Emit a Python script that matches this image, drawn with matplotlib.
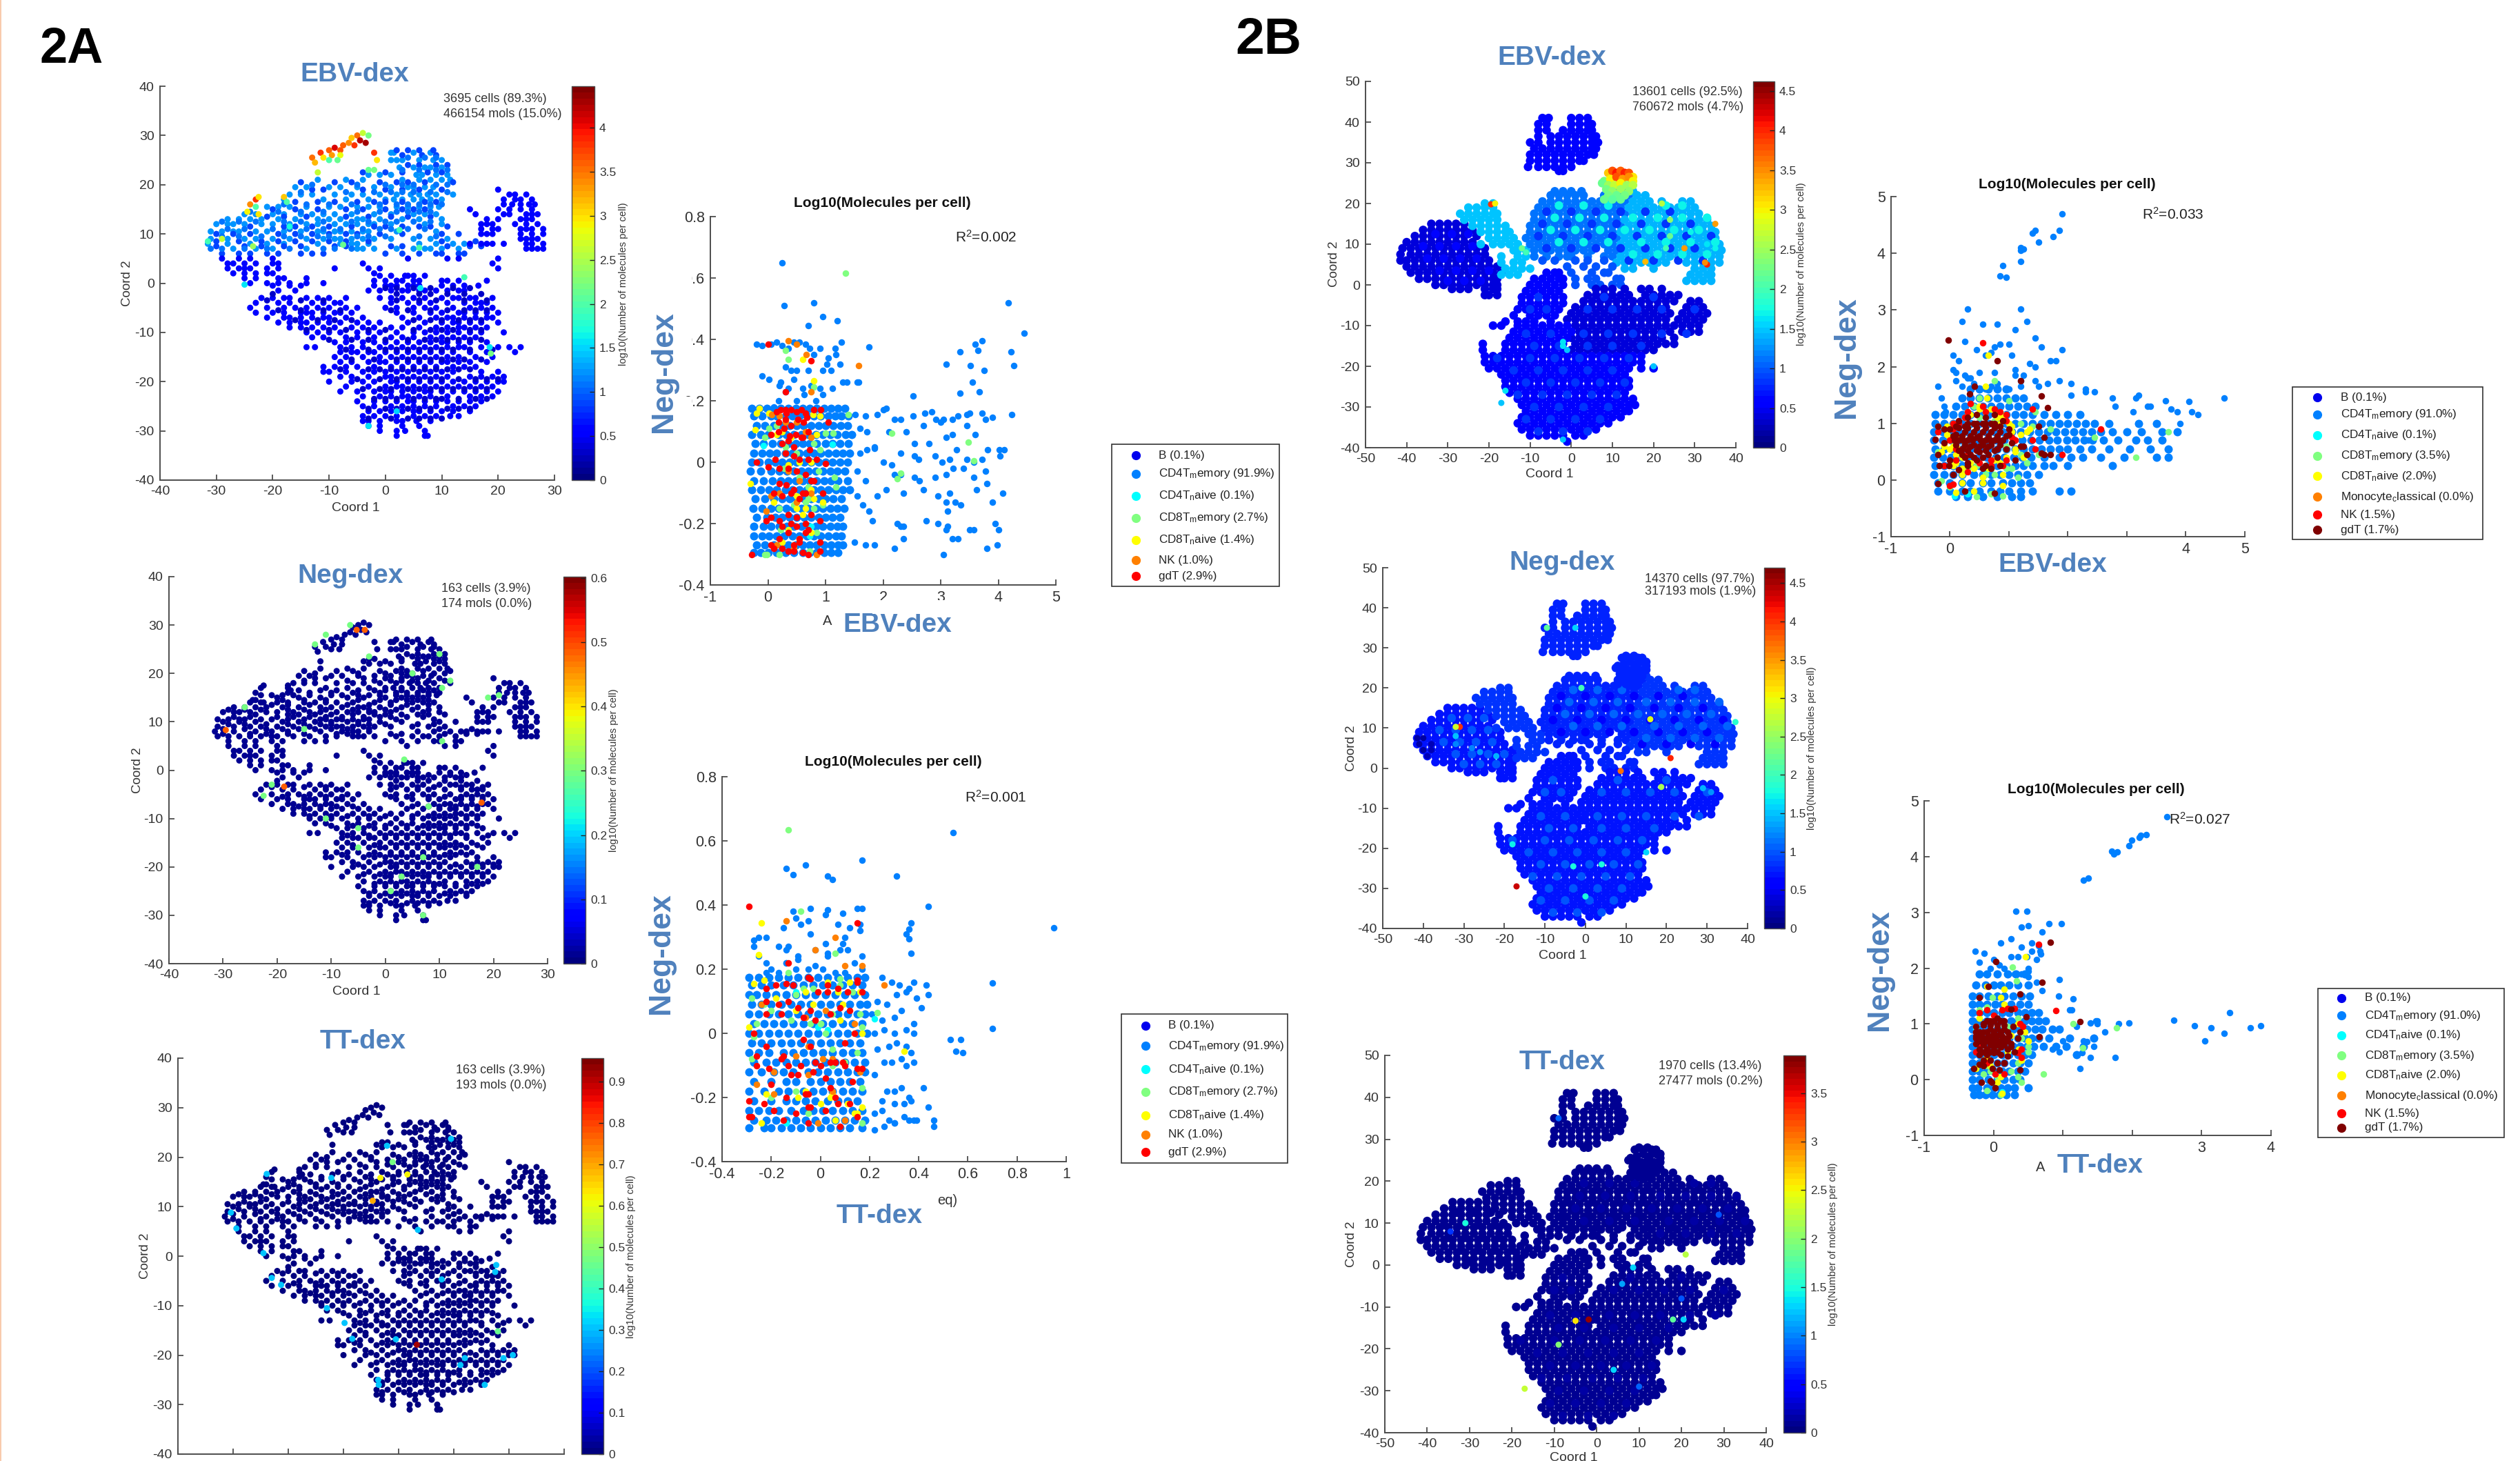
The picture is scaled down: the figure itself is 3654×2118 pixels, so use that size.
import numpy as np
import matplotlib
matplotlib.use("Agg")
import matplotlib.pyplot as plt
from matplotlib.colors import Normalize
from matplotlib.cm import ScalarMappable
from matplotlib.patches import Rectangle
from matplotlib.lines import Line2D

W, H = 3655, 2118
NARROW = ["Liberation Sans Narrow", "Liberation Sans", "DejaVu Sans"]
plt.rcParams["font.family"] = NARROW
plt.rcParams["mathtext.default"] = "regular"
GREY = "#4d4d4d"
TITLE = "#4f81bd"
JET = plt.get_cmap("jet", 64)

# ---------- tSNE map of 2A (rows: y, xs) ----------
A_UP_LIGHT = [(26.5,[1,1.5,5,8]),(25,[1,2,3,6,8.5,10]),(23.5,[2.5,5,7,8,10]),(22,[-3,-1,1,5.5,6.5,9,11]),
 (21,[-12,-7,-4,3,6,8,10,11.5]),(19.5,[-16,-14,-10,-8,-5,-2,1,4,5,7,8.5]),(18,[-17,-15,-13,-9,-6,-4,-1,2,4.5,6,7.5,9,12]),
 (17,[-18,-11,-7,-3,0,1.5,3,5,6.5,8,10]),(15.5,[-21,-19,-17,-14,-10,-8,-5,-3,-1,2,4,6,8,9.5]),
 (14,[-25,-23,-20,-18,-15,-13,-11,-9,-6,-2,1,5,7,9]),(13,[-28,-26,-24,-22,-19,-16,-12,-10,-8,-5,-4,-1,3,6,10]),
 (12,[-30,-28,-27,-25,-22,-20,-17,-14,-12,-9,-7,-5,-3,-2,1,7,10]),(10.5,[-31,-29,-27,-26,-23,-21,-18,-15,-12,-11,-9,-8,-6,-4,-3,2,9]),
 (9,[-31,-28,-25,-23,-20,-17,-14,-11,-9,-8,-6,-4,-2,1,5,8,11]),(8,[-31.5,-28,-24,-21,-18,-12,-8,-6,-5,-3,6,9,12,14]),
 (7,[-27,-23,-20,-14,-5,-4,-2,2,5,7,8,10,13])]
A_UP_DARK = [(27,[2,4,6,8.5]),(26,[3,6.5,9]),(24,[4,6,9,11]),(22.5,[-4,0,3,7.5,10]),(20.5,[-15,-9,-6,-1,2,4,7,12]),
 (19,[-13,-11,-4,0,3,6,10]),(16.5,[-16,-12,-9,-5,-2,0,3,7,9]),(15,[-20,-16,-12,-7,-4,0,3,5,7]),(13.5,[-21,-18,-14,-7,-3,1,4,8]),
 (11.5,[-24,-18,-16,-13,-10,-6,-2,0,3,6,8,11]),(10,[-30,-27,-24,-19,-16,-13,-10,-7,-5,-1,3,10,13]),
 (8.5,[-30,-26,-22,-19,-16,-13,-10,-7,-3,10,16]),(7.5,[-30,-25,-22,-18,-15,-9,-7,1,3,11,15,17]),
 (6,[-29,-26,-24,-21,-19,-15,-13,-11,0,3,6,9,10,13,14])]
A_UP_MID = [(25.5,[4,7,9]),(23,[3,6,9,11]),(20,[-13,-5,0,3,5,9,11]),(18.5,[-15,-7,-2,1,3,5,8,11]),(16,[-18,-14,-10,-6,-1,2,4,6,8,10]),
 (14.5,[-24,-19,-15,-11,-5,-1,2,4,6,8]),(12.5,[-29,-26,-23,-18,-15,-11,-6,-3,0,2,5,8]),(11,[-28,-25,-20,-17,-14,-11,-8,-4,-1,1,4,7]),
 (9.5,[-29,-26,-22,-18,-15,-12,-10,-5,-3,0,6,9]),(7,[-31,-29,-25,-21,-17,-11,-9,-6])]
A_LEFT = [(5,[-29,-26,-24,-20,4,11,13,20]),(4,[-28,-27,-25,-23,-20,-19,-4,19]),(3,[-28,-26,-25,-24,-21,-19,-9,-3,-1,20]),
 (2,[-27,-25,-23,-21,-20,-2]),(1,[-25,-23,-19,-18,-14]),(0,[-24,-21,-19,-17,-14,-11])]
A_RIGHT = [(19,[20]),(18,[22,23,25]),(17,[21,23,24,26]),(16,[21,22.5,24,25.5,26.5]),(15,[15,20,22,24,26]),(14,[16,21,22,25,26,27]),
 (13,[18,20,24,25,26]),(12,[17,18,19,23,25,27]),(11,[17,19,20,24,25,26,28]),(10,[17,18,19,24,26,28]),(9,[24,25,26,27]),
 (8,[15,17,18,19,21,25,26,28]),(7,[25,26,27,28])]
A_LOW = [(1.5,[-1,1,3.5,4,5,7]),(0.5,[-2,0,2,3,5,6,10,11,13,18]),(-0.5,[-20,-17,-15,-2,0,1,2,4,5,6,10,12,14,16.5]),
 (-1.5,[-19,-16,-3,-1,1,3,4,6,7,9,11,13,14]),(-3,[-22,-20,-18,-17,-14,-12,-10,-7,-1,1,3,5,7,10,12,13,15,16,19]),
 (-4,[-23,-19,-17,-13,-11,-9,-8,1,4,6,8,11,14,16,17,18]),(-5,[-24,-21,-18,-16,-14,-12,-10,-7,-5,0,2,5,7,9,12,15,17,19]),
 (-6,[-23,-20,-18,-15,-14,-13,-11,-9,-8,-6,2,5,8,10,13,14,16,18,20]),(-7,[-21,-18,-17,-15,-13,-11,-10,-7,-4,3,6,9,11,12,14,16,18,19]),
 (-8,[-19,-17,-15,-14,-12,-10,-8,-5,-3,-1,4,7,10,12,13,15,17,20]),(-9,[-17,-15,-13,-11,-9,-6,-4,-2,1,3,6,9,11,13,14,16,18]),
 (-10,[-14,-12,-10,-8,-5,-3,-1,2,5,7,9,11,13,15,17,21]),(-11,[-13,-11,-7,-5,-2,1,3,5,8,10,12,14,16]),
 (-12,[-9,-7,-4,-2,0,2,4,6,8,10,11,13,15,18]),(-13,[-14,-12.5,-8,-6,-4,-1,1,3,5,7,9,11,13,14,17,20,22,24]),
 (-14,[-8,-6,-5,-3,-2,0,2,4,6,8,10,12,15,18,23]),(-15,[-9,-7,-4,-1,1,3,5,7,9,11,13,16,19]),
 (-16,[-8,-6,-3,-1,0,2,4,6,8,10,11,13,15,18]),(-17,[-11,-9,-7,-5,-2,1,3,5,7,9,12,14,16]),
 (-18,[-11,-10,-7,-4,-2,0,2,4,6,8,10,12,17,20]),(-19,[-8,-6,-3,0,1,3,5,7,9,11,15,17,19,21]),
 (-20,[-10,-6,-4,-2,1,2,4,6,8,10,12,14,16,18,20,21]),(-21,[-7,-3,0,2,3,5,7,9,11,13,15,17,19]),
 (-22,[-8,-5,-2,0,1,3,5,7,8,10,12,14,16,18,20]),(-23,[-4,-1,1,3,4,6,8,11,15,17,19]),(-24,[-5,-2,0,2,4,5,7,9,11,13,15,17]),
 (-25,[-4,-2,1,3,5,7,9,12,14,16]),(-26,[-3,-1,1,3,5,6,8,10,12,15]),(-27,[-4,-2,0,2,5,7,9,11.5,13]),
 (-28,[-4,-3,-1,2,3,5.5,8]),(-29,[-3,-1,3,6]),(-30,[-1,2,3.5,7]),(-31,[2,7,7.5])]
A_LOW2 = [(-1,[0,2,5,8,12,15]),(-2.2,[-20,2,6,8,11,14,17]),(-3.5,[-21,-15,-11,2,6,9,14,18]),(-5.5,[-19,-15,-11,-8,1,4,8,11,14,16,18]),
 (-7.5,[-16,-12,-9,-6,5,8,10,13,15,17]),(-9.5,[-14,-10,-7,-3,0,5,8,10,12,15,17]),(-11.5,[-10,-6,-3,0,4,7,9,11,13,15,17]),
 (-13.5,[-7,-3,0,2,4,6,8,10,12,15,19]),(-15.5,[-6,-2,2,4,6,8,10,12,14,17]),(-17.5,[-8,-3,-1,1,3,5,7,9,11,13,15]),
 (-19.5,[-5,-1,2,4,6,8,10,13,16,18,20]),(-21.5,[-4,-1,1,4,6,8,10,12,14,16,18]),(-23.5,[-2,0,2,5,7,9,10,13,16,18]),
 (-25.5,[-3,0,2,4,6,8,11,13,15]),(-27.5,[-3,1,4,6,8,10])]
A_ARC_X = [-13,-12.5,-11.5,-11,-10,-9.5,-9,-8,-8,-7.5,-6.5,-6,-5.5,-5,-4.5,-4,-3.5,-3,-2,-1.5,-12,-24,-23,-22.5,-24.5,-22.5,-23,-18,-17.5,-10,-8.5,-3,-2]
A_ARC_Y = [25.5,24.5,26.5,25.5,27,26,27.5,27,26,28,28.5,29.5,28,30,29,30.5,28.5,30,26.5,25,22.5,16,17,17.5,14.5,14,15.5,17.5,16.5,25,25,23,23]
A_ARC_EBV = [3.5,3.2,3.8,3,3.6,3.3,4.1,3.7,2.8,3.6,3.4,3.1,3.8,3.5,4.2,2.6,4.3,2.2,3.8,3,2.6,3.4,3.8,3,2.9,3,2,3.1,2,2,2.1,2.1,2.2]
A_EBV_EXTRA = [(14,1.2,1.9),(18.5,-13,1.6),(18.7,-14.3,2.2),(6.2,-1,1.6),(-25,-.3,1.6),(-29,9,2.6),(-31.5,8.5,1.9),(2.5,10.8,1.9),(-7.5,7.8,2.1),(6,7.2,2),(-17,11.5,1.7),(-23.5,7.5,2.4),(2,-26,1.5),(-3,-29,1.6)]
A_NEG_EXTRA = [(-6.5,30,.3),(-11,28,.3),(-13,26,.3),(-3,23.5,.3),(10,24,.3),(12,18.5,.3),(10.5,17,.3),(5,20,.3),(-15,8.5,.3),(-26,13,.3),(19,15,.3),(21,15.5,.3),(10.5,6,.3),(-21,-3,.3),(-22.5,-5.3,.3),(3.5,2.2,.3),(8,-7.5,.3),(-11,-10,.3),(-5,-12,.3),(-5,-16,.3),(7,-18,.3),(3,-22,.3),(1,-25,.3),(7,-30,.3),(17,-20,.3),(-5.3,29,.48),(-3.8,29,.48),(-29.5,8.3,.48),(-18.7,-3.4,.48),(17.8,-6.7,.48)]
A_TT_EXTRA = [(-3.3,15.8,.62),(1.6,16.5,.62),(-1.1,19,.47),(-4.7,11.2,.7),(3.3,-17.9,.92),(-2.1,22.3,.3),(9.5,23.7,.3),(-23.9,16.6,.3),(-12.2,15.8,.3),(-30.4,8.8,.3),(-29.4,5.6,.3),(-24.5,.6,.3),(-23,-4.4,.3),(-21.3,-5.8,.3),(-13,-10.5,.3),(-9.8,-13.5,.3),(-8.4,-16.7,.3),(3.5,5.3,.3),(-.5,-16.8,.3),(7.8,-4.7,.3),(17.7,-1.8,.3),(17.5,-3.2,.3),(12,-20.6,.3),(11.2,-22,.3),(15.6,-26,.3),(-3.7,-25,.3),(-3.6,-26,.3),(20.7,-20,.3),(19,-20.6,.3),(18,-15.2,.45)]
A_EBV_LEVELS = [1.25, 0.85, 1.05, 0.6, 0.55, 0.5, 0.33]

# ---------- tSNE map of 2B ----------
B_TOP = [(41,[-7,-5.5,0,2,4]),(39.5,[-8,-6,0,2,4,5]),(38,[-8,-6,-2,0,2,4,5]),(36.5,[-8,-5,-3,-1,1,3,5,6]),(35,[-10,-8,-5,-3,-1,1,3,5,6.5]),
 (33.5,[-9,-7,-5,-3,-1,1,3,5,6]),(32,[-10,-8,-6,-4,-2,0,2,4,5.5]),(30.5,[-10,-8,-6,-4,-2,0,2,3]),(29,[-10.5,-8,-6,-4,-2,0]),(28,[-3,-2])]
B_ISLE_X = [9,10,11,12,13,14,15,8,9.5,11,12.5,14,15,7.5,9,10.5,12,13.5,15,8.5,10,12,14,9,11,13,8,10,12]
B_ISLE_Y = [27.5,28,27.5,28,27.5,27.5,26.5,25.5,26,26.5,26,26.5,25.5,25,24.5,24.5,25,24.5,24.5,23.5,23,23.5,23,22,22,22,21,21,21]
B_ISLE_EBV = [3.2,3.8,4.1,3.7,4,3.8,3.1,2.3,3,3.8,3.4,3.5,3,2.2,2.5,2.7,3,2.5,2.6,2.3,2.4,2.5,2.4,2.3,2.2,2.3,2.2,2.1,2.2]
B_LOBE = [(15,[-34,-32,-30,-28,-26]),(13.5,[-36,-34,-32,-30,-28,-26,-24]),(12,[-38,-36,-34,-32,-30,-28,-26,-23]),
 (10.5,[-40,-38,-36,-34,-32,-30,-28,-26,-24]),(9,[-41,-39,-37,-35,-33,-31,-29,-27,-25,-23,-21]),(7.5,[-41.5,-39,-37,-35,-33,-31,-29,-27,-25,-23,-21]),
 (6,[-41.5,-40,-38,-36,-34,-32,-30,-28,-26,-24,-22,-20]),(4.5,[-40,-38,-36,-34,-32,-30,-28,-26,-24,-22,-20,-18]),
 (3,[-39,-37,-35,-33,-31,-29,-27,-25,-23,-21,-19,-17]),(1.5,[-37,-35,-33,-31,-29,-27,-25,-23,-21,-19,-18]),
 (0,[-33,-31,-29,-27,-25,-23,-21,-19,-18]),(-1,[-29,-27,-25,-21,-19,-18]),(-2.5,[-21,-20,-18])]
B_SHOULDER = [(20,[-21,-19]),(19,[-25,-23,-21,-19]),(17.5,[-27,-25,-23,-21,-19,-18]),(16,[-26,-24,-22,-20,-18]),(14.5,[-24,-22,-20,-18,-16]),
 (13,[-22,-20,-18,-16,-15]),(11.5,[-20,-18,-16,-14]),(10,[-22,-19,-17,-15,-13]),(8.5,[-14,-13,-11]),(7,[-17,-13,-11,-9]),(5.5,[-17,-14,-12]),(4,[-16,-14,-12,-10]),(2.5,[-17,-15,-13])]
B_BAND_L = [(23,[-4,-2,0,2.5,9,11,13]),(22,[-5,-3,-1,1,3,8,10,12,14]),(20.5,[-7,-5,-3,-1,1,3,5,7,9,11,13]),(19,[-8,-6,-4,-2,0,2,4,6,8,10,12]),
 (17.5,[-9,-7,-5,-3,-1,1,3,5,7,9,11,13]),(16,[-9,-7,-5,-3,-1,1,3,5,7,9,11]),(14.5,[-10,-8,-6,-4,-2,0,2,4,6,8,10,12]),
 (13,[-10,-8,-6,-4,-2,0,2,4,6,8,10]),(11.5,[-11,-9,-7,-5,-3,-1,1,3,5,7,9,11]),(10,[-10,-8,-6,-4,-2,0,2,4,6,8,10]),
 (8.5,[-9,-7,-5,-3,-1,1,3,5,9,11]),(7,[-9,-6,-3,-1,0,4,8,10])]
B_BAND_R = [(23,[15]),(22,[16,18]),(20.5,[15,17,19,22,27,29]),(19,[14,16,18,20,22,24,26,28,30]),(17.5,[15,17,19,21,23,25,27,29,31]),
 (16,[13,15,17,19,21,23,25,27,29,31,33]),(14.5,[14,16,18,20,22,24,26,28,30,32,34]),(13,[12,14,16,18,20,22,24,26,28,30,32,34,35]),
 (11.5,[13,15,17,19,21,23,25,27,29,31,33,35]),(10,[12,14,16,18,20,22,24,26,28,30,32,34,36]),(8.5,[13,15,17,19,21,23,25,27,29,31,33,35,36.5]),
 (7,[12,14,16,18,20,22,24,26,28,30,32,34,36]),(5.5,[11,13,15,17,19,21,23,28,30,32,34,36]),(4,[13,15,20,30,32,34]),(2.5,[29,31,33,34]),(1,[28,30,32,34])]
B_GAPS = [(6,[-7,-4,1,4,8]),(4.5,[-1,3,6,10]),(3,[-4,0,5,8,9]),(1.5,[1,4,6,11,12]),(0,[1,5,7,10,12])]
B_MID = [(3,[-6,-4,-3]),(1.5,[-9,-7,-5,-3,-2]),(0,[-10,-8,-6,-4,-2]),(-1.5,[-11,-9,-7,-5,-3]),(-3,[-12,-10,-8,-6,-4,-2]),(-4.5,[-12,-10,-8,-6,-4,-2]),
 (-6,[-13,-11,-9,-7,-5,-3]),(-7.5,[-14,-10,-8,-6,-4]),(-9,[-16,-13,-11,-9,-5])]
B_LR = [(-1,[6,8,10,13,17,19,22]),(-2.5,[4,6,8,10,12,14,18,20,22,24,26]),(-4,[3,5,7,9,11,13,15,17,19,21,23,25,29,31]),(-5.5,[1,3,5,7,9,11,13,15,17,19,21,23,28,30,32]),
 (-7,[0,2,4,6,8,10,12,14,16,18,20,22,24,27,29,31,33]),(-8.5,[-1,1,3,5,7,9,11,13,15,17,19,21,23,26,28,30,32]),
 (-10,[1,3,5,7,9,11,13,15,17,19,21,23,25,27,29,31]),(-11.5,[2,4,6,8,10,12,14,16,18,20,22,24,27,29,31]),(-13,[0,2,4,6,8,10,12,14,16,18,20,22,25]),
 (-14.5,[1,3,5,7,9,11,13,15,17,19,21,23,25]),(-16,[0,2,4,6,8,10,12,14,16,18,20])]
B_LOW = [(-10,[-19,-17,-13,-11,-9,-7,-5,-3,-1]),(-11.5,[-14,-12,-10,-8,-6,-4,-2,0]),(-13,[-15,-13,-11,-9,-7,-5,-3,-1]),(-14.5,[-21.5,-16,-14,-12,-10,-8,-6,-4,-2]),
 (-16,[-21.5,-16,-14,-12,-10,-8,-6,-4,-2]),(-17.5,[-21,-19,-17,-15,-13,-11,-9,-7,-5,-3,-1,1,3,5,7,9,11,13,15,17]),
 (-19,[-21,-19,-17,-15,-13,-11,-9,-7,-5,-3,-1,1,3,5,7,9,11,13,15,17]),(-20.5,[-20,-18,-16,-14,-12,-10,-8,-6,-4,-2,0,2,4,6,8,10,12,14,17,20]),
 (-22,[-17,-15,-13,-11,-9,-7,-5,-3,-1,1,3,5,7,9,11,13]),(-23.5,[-16,-14,-12,-10,-8,-6,-4,-2,0,2,4,6,8,10,12,14]),
 (-25,[-16,-14,-12,-10,-8,-6,-4,-2,0,2,4,6,8,10,12,14]),(-26.5,[-15,-13,-11,-9,-7,-5,-3,-1,1,3,5,7,9,11,13]),
 (-28,[-13,-11,-9,-7,-5,-3,-1,1,3,5,7,9,11,13,15]),(-29.5,[-12,-10,-8,-6,-4,-2,0,2,4,6,8,10,12,14,15.5]),
 (-31,[-11,-9,-7,-5,-3,-1,1,3,5,7,9,11,13,14]),(-32.5,[-12,-10,-8,-6,-4,-2,0,2,4,6,8,10,12]),(-34,[-13,-11,-9,-7,-5,-3,-1,1,3,5,7,9]),
 (-35.5,[-12,-10,-8,-6,-4,-2,0,2,4,6]),(-37,[-10,-8,-6,-4,-2,1,3]),(-38.5,[-1])]
B_LOW_PATCH = [(-3,[-8,8,20]),(-6,[-10,-6,4,10,16,22,30]),(-12,[-11,-5,3,9,15,22,28]),(-15,[-9,-3,4,10,17]),(-18,[-18,-10,-4,2,8,14]),
 (-21,[-14,-8,-2,4,10]),(-24,[-11,-5,1,7,13]),(-27,[-13,-7,-1,5,11]),(-30,[-9,-3,3,9]),(-33,[-11,-5,1,7]),(-36,[-8,-2,4])]
B_LOBE_PATCH = [(12.5,[-33,-29,-25]),(9.5,[-36,-32,-28,-24]),(6.5,[-35,-31,-27,-23]),(3.5,[-32,-28,-24,-20]),(1,[-30,-26,-22])]
B_BAND_DARK = [(18,[-6,0,6,12,18,24]),(15,[-7,-1,5,11,17,23,29]),(12,[-8,-2,4,10,16,22,28,34]),(9,[-6,0,6,12,18,24,30]),(6,[14,20,26,32])]
B_BAND_BRIGHT = [(19.5,[-3,3,9,23,27]),(16.5,[-4,2,8,15,21,27,33]),(13.5,[-5,1,7,13,19,25,31]),(10.5,[-3,3,9,17,23,29,35]),(7.5,[15,21,27,33])]
B_EBV_LEVELS = [0.6, 0.38, 1.5, 1.15, 1.42, 1.0, 0.6, 0.42, 0.55, 0.8, 0.6, 0.85, 1.7]
B_NEG_LEVELS = [0.75, 0.72, 0.85, 0.75, 0.85, 0.75, 0.72, 0.68, 0.72, 1.0, 1.0, 0.55, 1.1]
B_TT_LEVELS = [0.12, 0.08, 0.1, 0.1, 0.12, 0.1, 0.1, 0.08, 0.1, 0.15, 0.12, 0.08, 0.15]
B_EBV_EXTRA = [(-19.5,19.8,3.9),(-18.5,20,3),(35,15,3.4),(33,5,4),(32.5,5.5,3.5),(18,5.7,3.3),(27.5,9,3.4),(24,12,2.2),(-12,9,2.2),(-11,8,2),(22,20,2.6),(24,16,2.4),(-2,-14,1.6),(-2,-15,1.6),(-1,-16,1.5),(20,-20,1.5),(-16,-26,1.6),(-17,-29,1.5),(35,9,1.7),(33,10,1.6),(-2,-38,1.5),(29,13,1.7),(23,9,2)]
B_NEG_EXTRA = [(-31,10.3,4),(-32,10.3,2.8),(21,2.5,4.1),(-17,-29.5,4.4),(8.7,-.7,3.7),(16,12.2,2.9),(18.7,-4.7,2.6),(37,11.5,1.9),(-1,20,2),(-2.5,35,1.6),(-9.5,35,2.2),(0,-32,1.8),(-3,-24.5,1.8),(4,-24,1.8),(-18,-19,1.7),(15,-21,1.6),(-41,6,.2),(-40,4.5,.2),(-39,3,.25),(-40,7.5,.2),(-38,4.5,.25),(-38,6,.25),(-41.5,7.5,.2),(-32,8,1.5),(-22,3,1.4),(-26,4,1.3),(-32,6,1.2),(-28,5,1.2),(29,-5,1.4),(31,-6,1.3)]
B_TT_EXTRA = [(-1.9,-13,3.8),(-5,-13.3,2.6),(21,2.5,2.2),(-17,-29.5,2.3),(18,-13,1.8),(8.6,-.6,1.3),(4,-25,1.3),(20.5,-13,1.3),(-34.5,8,.7),(-31,10,1.5),(6,-4.5,1.1),(10,-29,.9),(28.8,12,.8),(-9,-19,2),(-9,35,.9),(20,-8,.8)]

# ---------- scatter 2A EBV vs Neg ----------
S1_BLUE = [(.175,[-.28,-.15,-.02,.1,.22,.35,.48,.6,.72,.85,.98,1.1,1.22,1.33]),(.15,[-.25,-.1,.05,.15,.3,.42,.55,.68,.8,.92,1.05,1.17,1.28,1.4]),
 (.12,[-.2,-.05,.1,.25,.38,.5,.62,.75,.88,1,1.13,1.26,1.38]),(.09,[-.28,-.12,0,.18,.32,.45,.58,.7,.83,.95,1.08,1.2,1.35,1.45]),
 (.06,[-.22,-.08,.08,.22,.35,.48,.6,.73,.85,1,1.12,1.25,1.4]),(.03,[-.25,-.1,.03,.15,.3,.42,.55,.68,.8,.92,1.05,1.18,1.3,1.42]),
 (0,[-.28,-.15,0,.12,.25,.38,.5,.63,.75,.88,1,1.12,1.25,1.38]),(-.03,[-.3,-.12,.05,.2,.33,.45,.58,.7,.83,.95,1.08,1.2,1.33]),
 (-.06,[-.25,-.08,.08,.22,.35,.48,.6,.73,.85,.98,1.1,1.22,1.38]),(-.09,[-.28,-.13,.02,.15,.3,.42,.55,.68,.8,.92,1.05,1.18,1.3,1.42]),
 (-.12,[-.22,-.05,.1,.25,.38,.5,.63,.75,.88,1,1.13,1.27]),(-.15,[-.26,-.1,.05,.18,.32,.45,.58,.7,.83,.95,1.08,1.2,1.32]),
 (-.18,[-.2,-.02,.12,.25,.38,.5,.63,.75,.88,1,1.12,1.25]),(-.21,[-.24,-.08,.05,.2,.33,.45,.58,.7,.83,.95,1.08,1.2,1.3]),
 (-.24,[-.25,-.1,.02,.15,.28,.42,.55,.68,.8,.92,1.05,1.18,1.28]),(-.27,[-.2,-.05,.1,.22,.35,.48,.6,.73,.85,.98,1.1,1.22,1.3]),
 (-.295,[-.25,-.12,0,.15,.3,.45,.6,.72,.85,.98,1.1,1.22])]
S1_SPARSE_X = [.25,.28,.8,.95,1.2,.7,4.17,4.45,1.75,3.72,3.6,3.65,4.22,3.33,4.27,3.1,3.52,3.75,3.55,3.67,3.33,2.52,-.2,-.1,.05,.15,.25,.35,.45,.55,.65,.72,.8,.9,1.28,1.17,1.18,1.05,.95,1.02,1.25,1.1,.7,.5,.4,.3,.22,.2,.02,-.1,.35,.45,.6,.75,.9,1.12,1.3,1.37,1.55,1.58,.5,.63,.83,.95,.18,.1,.3,
 1.52,1.7,1.9,2,2.05,2.2,2.3,2.52,2.72,2.85,2.92,3.05,3.2,3.3,3.45,3.5,3.72,3.9,4.23,
 1.6,1.72,1.85,2.1,2.4,2.55,2.7,2.8,3,3.1,3.2,3.45,3.6,3.78,4.02,4.1,
 1.6,1.72,1.85,2,2.15,2.3,2.55,2.62,2.9,3.02,3.15,3.28,3.45,3.58,3.72,3.82,4.03,
 1.55,1.7,2.2,2.3,2.55,2.63,2.9,3.1,3.22,3.4,3.58,3.78,
 1.55,1.65,1.9,2.05,2.35,2.7,2.95,3.1,3.25,3.35,3.8,3.9,4.08,3.15,3.62,
 1.75,1.82,2.25,3.12,3.5,2.75,2.95,3.95,4,
 1.5,1.7,1.85,2.2,2.3,2.35,3.05,3.2,3.58,3.1,3.3,2.35,3.8,3.98,3.12]
S1_SPARSE_Y = [.65,.51,.52,.475,.46,.445,.52,.42,.375,.395,.385,.365,.36,.36,.315,.32,.315,.3,.26,.23,.225,.215,.385,.38,.385,.39,.38,.37,.39,.39,.385,.37,.35,.37,.39,.37,.35,.34,.3,.32,.32,.3,.3,.3,.3,.31,.26,.25,.27,.28,.24,.27,.24,.25,.24,.24,.26,.26,.26,.26,.2,.22,.2,.22,.2,.18,.23,
 .155,.15,.155,.17,.175,.14,.14,.15,.16,.165,.14,.14,.14,.15,.155,.16,.16,.145,.155,
 .11,.1,.045,.1,.1,.06,.12,.06,.13,.08,.09,.12,.09,.14,.04,.04,
 .03,.04,.05,.0,-.01,.03,.02,.01,.02,.0,.01,.04,.01,.0,.01,.04,.02,
 -.03,-.06,-.04,-.04,-.05,-.06,-.05,-.04,-.02,-.02,-.05,-.03,
 -.11,-.14,-.11,-.09,-.1,-.09,-.11,-.13,-.13,-.14,-.07,-.13,-.1,-.1,-.09,
 -.16,-.19,-.2,-.21,-.22,-.19,-.2,-.2,-.22,
 -.26,-.27,-.27,-.28,-.21,-.25,-.3,-.25,-.22,-.22,-.25,-.21,-.28,-.27,-.16]
S1_CD8M_X = [.3,.35,1.35,2.15,2.3,2.25,3.48,3.58,.8,1.4,-.05,.02,.15,.3,.5,.8,1,1.13,.9,.28,.55,.7,.88,1.15,1.18,.2,.45,.65,.95,-.02,.22,.85,-.05,.2,.45,.72,.8,.7]
S1_CD8M_Y = [.365,.335,.615,.095,-.035,-.055,.065,.005,.245,.155,.08,.11,.12,.05,.03,.06,.095,.095,.04,-.02,-.05,-.08,-.03,-.05,-.08,-.15,-.14,-.13,-.14,-.3,-.22,-.23,-.3,-.3,-.27,-.29,-.15,-.12]
S1_CD8N_X = [-.2,-.15,.02,-.22,.6,.8,.78,-.3,.15,.25,.4,.55,.75,.9,.35,.5,.75,.1,.5,.6,.8,.95,.65,.35,.55,.25,.75,.85]
S1_CD8N_Y = [.16,.175,.16,.105,.335,.265,.155,-.07,.09,.1,.08,.0,.0,.15,-.01,-.15,-.09,-.13,-.11,-.17,-.12,-.13,-.15,-.22,-.25,-.26,-.23,.09]
S1_NK_X = [.35,.5,.67,1.57,.75,.07,.2,.3,.5,.65,.75,.3,.35,.55,.2,-.03,.5,.75,.85,.05,.15,.45]
S1_NK_Y = [.395,.385,.35,.315,.23,.155,.15,.13,.13,.1,.08,.03,-.03,-.06,-.1,-.16,-.13,-.1,-.3,-.11,-.27,-.28]
S1_GDT_X = [.0,.3,.75,.3,.15,.22,.32,.4,.5,.58,.65,.8,.92,.18,.3,.4,.52,.62,.68,1.05,.18,.28,.38,.48,.58,.7,.05,.25,.35,.45,.6,.72,-.2,.12,.3,.45,.55,.7,.85,1,0,.2,.35,.5,.65,.75,.2,.32,.45,.6,.8,.95,.1,.25,.4,.55,.65,.05,.2,.35,.5,.65,.75,.25,.4,.5,.7,.9,-.03,.2,.35,.45,.55,.9,.05,.25,.35,.45,.6,.7,.9,-.28,.1,.35,.55,.65]
S1_GDT_Y = [.385,.23,.33,.17,.165,.17,.16,.17,.165,.17,.16,.17,.17,.13,.14,.12,.14,.13,.145,.13,.1,.11,.085,.09,.08,.1,.09,.06,.07,.05,.08,.04,.0,.01,.03,.02,.01,.01,.01,-.005,-.015,-.02,-.02,-.03,-.04,-.06,-.07,-.075,-.09,-.1,-.06,-.1,-.1,-.11,-.1,-.12,-.1,-.18,-.19,-.17,-.18,-.2,-.17,-.21,-.2,-.21,-.22,-.19,-.19,-.25,-.23,-.27,-.26,-.26,-.27,-.28,-.29,-.29,-.295,-.3,-.29,-.3,-.28,-.29,-.25,-.23]
S1_CD4N_X = [-.08,1.12,.75,.72]
S1_CD4N_Y = [.055,.058,-.21,-.24]

# ---------- scatter 2A TT vs Neg ----------
S2_BLUE = [(.175,[-.29,-.25,-.21,-.17,-.13,-.09,-.05,-.01,.03,.07,.11,.15,.18]),(.15,[-.28,-.24,-.2,-.15,-.11,-.07,-.03,.01,.05,.09,.13,.17]),
 (.12,[-.29,-.26,-.22,-.18,-.14,-.1,-.06,-.02,.02,.06,.1,.14,.18]),(.09,[-.28,-.24,-.2,-.16,-.12,-.08,-.04,0,.04,.08,.12,.16,.19]),
 (.06,[-.29,-.25,-.21,-.17,-.13,-.09,-.05,-.01,.03,.07,.11,.15,.18]),(.03,[-.27,-.23,-.19,-.15,-.11,-.07,-.03,.01,.05,.09,.13,.17]),
 (0,[-.29,-.25,-.21,-.17,-.13,-.09,-.05,-.01,.03,.07,.11,.15,.19]),(-.03,[-.28,-.24,-.2,-.16,-.12,-.08,-.04,0,.04,.08,.12,.16]),
 (-.06,[-.29,-.25,-.21,-.15,-.11,-.07,-.03,.01,.05,.09,.13,.17]),(-.09,[-.27,-.22,-.18,-.14,-.1,-.06,-.02,.02,.06,.1,.14,.18]),
 (-.12,[-.29,-.24,-.19,-.15,-.11,-.05,-.01,.03,.07,.11,.15,.18]),(-.15,[-.27,-.2,-.14,-.1,-.04,0,.04,.08,.12,.16]),
 (-.18,[-.29,-.23,-.17,-.13,-.07,-.03,.01,.05,.09,.13,.17]),(-.21,[-.27,-.2,-.14,-.1,-.06,-.02,.03,.07,.11,.15]),
 (-.24,[-.29,-.25,-.21,-.17,-.12,-.07,-.03,.01,.05,.09,.13,.17]),(-.27,[-.27,-.22,-.18,-.14,-.1,-.06,-.02,.02,.06,.1,.14,.18]),
 (-.295,[-.29,-.23,-.2,-.16,-.12,-.08,-.04,0,.04,.08,.12,.17])]
S2_SPARSE_X = [.54,.17,.31,.03,.05,-.14,-.06,-.11,.95,.44,.37,.36,.35,.36,.37,.7,.7,
 -.27,-.25,-.22,-.15,-.11,-.04,.03,.09,.15,.17,-.1,-.05,.02,.07,.12,.16,-.25,-.22,-.17,-.14,-.08,-.04,.02,.1,.16,-.27,-.14,-.13,-.09,-.02,.03,.08,.11,.17,-.22,-.17,-.1,-.05,.01,.06,.1,.17,-.2,-.14,-.09,-.02,.03,.09,.14,
 .25,.29,.32,.36,.38,.43,.23,.27,.31,.35,.39,.44,.21,.25,.3,.33,.38,.41,.22,.26,.3,.35,.38,.23,.28,.31,.35,.37,.53,.58,.55,.57,.26,.29,.33,.35,.38,
 .22,.27,.3,.33,.36,.42,.25,.3,.34,.37,.44,.46,.22,.25,.28,.3,.34,.38,.22,.26,.3,.36,.39,.46]
S2_SPARSE_Y = [.625,.54,.49,.49,.48,.515,.525,.495,.33,.395,.345,.325,.31,.295,.25,.158,.015,
 .29,.3,.3,.33,.38,.39,.385,.375,.39,.39,.36,.35,.37,.34,.33,.34,.24,.22,.27,.26,.34,.31,.28,.3,.32,.27,.22,.27,.23,.21,.25,.26,.26,.24,.19,.19,.2,.2,.2,.19,.19,.2,.2,.22,.24,.26,.24,.28,.22,
 .175,.16,.15,.14,.16,.15,.1,.09,.12,.13,.11,.12,.06,.04,.05,.07,.03,.08,.0,.01,.0,.01,.0,-.05,-.04,-.03,-.04,-.06,-.02,-.06,-.055,-.02,-.09,-.09,-.08,-.1,-.09,
 -.13,-.18,-.18,-.17,-.2,-.17,-.21,-.22,-.22,-.21,-.23,-.27,-.25,-.24,-.27,-.28,-.26,-.27,-.3,-.29,-.28,-.27,-.27,-.29]
S2_CD8M_X = [-.13,.06,-.13,-.08,.23,-.28,-.26,-.23,-.2,-.1,-.07,0,.05,.08,-.27,-.04,0,.08,.13,.16,.17,.05,-.12,-.03,.1,.15,-.05,.17,.05,-.2,-.1,.17,-.28,.02]
S2_CD8M_Y = [.635,.25,.19,.38,.065,.11,.03,.09,.07,.12,.14,.03,.06,.17,-.01,.03,.03,.15,.13,.06,.02,-.05,.04,.14,-.09,-.06,-.25,-.28,-.1,-.2,-.18,-.17,-.08,.0]
S2_CD8N_X = [-.24,-.25,.34,-.27,-.23,-.18,-.06,.03,.12,.16,-.1,-.03,.07,.09,-.29,-.22,-.06,.14,.08,.05,.0,-.09,.11,.17,.14,-.24,.06,.04,.15,.17]
S2_CD8N_Y = [.345,.245,-.055,.155,.165,.11,.13,.16,.16,.13,.07,.09,.13,.09,.02,-.19,-.18,.0,.04,-.19,-.22,-.2,-.22,-.23,-.25,-.28,-.27,-.2,-.25,.0]
S2_NK_X = [-.14,.06,-.02,.1,.17,.26,-.24,.02,-.06,-.05,-.19,-.1,.05,.16,.14,-.26,-.19,-.05,-.01,.1,.01,.05]
S2_NK_Y = [.35,.3,.26,.21,.21,.15,.09,.07,.05,-.04,-.12,-.07,-.08,-.12,.03,-.16,-.19,-.13,-.28,-.27,-.08,-.18]
S2_GDT_X = [-.29,.15,-.13,-.05,.15,-.22,-.18,-.14,-.11,-.04,-.01,.03,.07,.11,.15,-.22,-.17,-.13,-.09,-.04,.03,.08,.17,-.22,-.16,-.07,-.02,.04,.12,-.27,-.22,-.07,-.04,.1,.14,-.26,-.16,-.15,-.08,-.02,0,.06,.1,.15,-.26,-.21,-.13,-.09,-.03,.04,.09,.17,-.2,-.12,-.05,.02,.13,-.29,-.14,-.06,-.04,.04,.06,-.28,-.23,-.19,-.1,-.05,.02,.07,.12,-.29,-.15,-.05,.08,.15]
S2_GDT_Y = [.395,.345,.22,.175,.165,.14,.15,.155,.15,.17,.13,.15,.14,.13,.16,.1,.09,.1,.08,.07,.13,.08,.13,.06,.06,.05,.04,.06,.07,.0,-.04,-.02,-.04,-.03,.0,-.07,-.08,-.07,-.1,-.09,-.1,-.09,-.1,-.11,-.1,-.11,-.1,-.13,-.12,-.09,-.09,-.11,-.16,-.13,-.19,-.14,-.15,-.21,-.2,-.19,-.23,-.17,-.2,-.26,-.22,-.24,-.25,-.23,-.24,-.22,-.22,-.26,-.27,-.28,-.29,-.26]
S2_CD4N_X = [-.1,-.01,.22,-.14,.03]
S2_CD4N_Y = [.13,.02,.045,-.28,.01]

# ---------- scatter 2B EBV vs Neg ----------
B1_BLUE = [(1.6,[.35,.5,.65,.8,.95]),(1.45,[.2,.35,.5,.65,.8,.95,1.1,1.25]),(1.3,[.1,.25,.4,.55,.7,.85,1,1.15,1.3,1.45]),
 (1.15,[-.25,-.1,.05,.2,.35,.5,.65,.8,.95,1.1,1.25,1.4,1.6,1.8,2,2.2]),(1,[-.25,-.1,.05,.2,.35,.5,.65,.8,.95,1.1,1.25,1.4,1.55,1.7,1.85,2,2.15,2.3,2.45,2.7,3.2,3.5]),
 (.85,[-.28,-.12,.02,.15,.3,.45,.6,.75,.9,1.05,1.2,1.35,1.5,1.65,1.8,1.95,2.1,2.25,2.4,2.55,2.75,3,3.25,3.6,3.85]),
 (.7,[-.28,-.12,.02,.18,.32,.48,.62,.78,.92,1.08,1.22,1.38,1.52,1.68,1.82,1.98,2.12,2.28,2.42,2.6,2.85,3.15,3.35,3.6]),
 (.55,[-.25,-.1,.05,.2,.35,.5,.65,.8,.95,1.1,1.25,1.4,1.55,1.7,1.85,2,2.2,2.4,2.7,3.05,3.4,3.7]),
 (.4,[-.28,-.12,.02,.18,.32,.48,.62,.78,.92,1.08,1.22,1.38,1.6,1.85,2.05,2.25,2.55,2.95,3.5,3.7]),
 (.25,[-.25,-.1,.05,.2,.35,.5,.65,.8,.95,1.1,1.25,1.4,1.6,1.75,2,2.75]),(.1,[-.28,-.1,.05,.2,.4,.55,.7,.85,1,1.15,1.3,1.5]),
 (-.05,[-.2,0,.2,.35,.55,.7,.9,1.05,1.2,1.35]),(-.2,[-.2,.0,.2,.35,.5,.7,.85,1,1.2,1.4,1.85,2.05]),(-.3,[.1,.3,.55,.8,1.05,1.2])]
B1_SPARSE_X = [1.9,1.45,1.85,1.75,1.4,1.5,1.2,1.25,1.2,1.2,.85,.95,.9,1.2,1.3,1.45,1.55,1.9,1.7,1.8,1.1,1,.8,.55,.3,.2,.25,.45,.75,.85,1.05,1.35,1.45,.6,.7,.05,.15,.05,.1,.25,.35,.5,.75,1.1,1.25,1.45,1.85,2.05,2.05,2.45,2.75,3.15,3.2,3.4,3.65,4.05,4.1,4.2,4.65,2.3,2.3,2.8,3.1,3.35,3.75,3.85,3.9,2.35,-.2,-.15,-.1,-.08,.1,.2,.3,.4,.6,.7,.8,1,1.2,1.1,1.2,1.65,1.5]
B1_SPARSE_Y = [4.7,4.4,4.4,4.3,4.35,4.2,4.1,4.08,4.05,3.85,3.6,3.58,3.78,3.02,2.8,2.5,2.35,2.3,2.1,2.1,2.65,2.4,2.75,2.75,3.02,2.8,2.45,2.3,2.35,2.4,2.2,2.05,2,2.2,2.25,2.2,2.1,1.95,1.9,1.85,1.8,1.9,1.9,1.85,1.85,1.75,1.75,1.7,1.5,1.55,1.45,1.45,1.5,1.3,1.4,1.38,1.2,1.15,1.45,1.6,1.55,1.3,1.2,1.3,1.25,1.2,1,.7,1.65,1.45,1.3,1.2,1.75,1.65,1.8,1.7,1.6,1.65,1.7,1.6,1.65,1.95,1.75,1.7,1.65]
B1_CD8M_X = [.75,1,2.45,3.15,3.7,-.2,-.15,0,.3,.45,.6,.75,1.05,1.3,1.5,1.7,.5,.7,.9,1.15,1.45,.4,.6,.9,1.2,1.4,.3,.5,.75,.05,.2,.45,-.2,.95,1.2,.95]
B1_CD8M_Y = [1.75,1.4,.75,.4,.85,.95,-.02,-.12,.2,.25,.1,.1,.2,.3,.45,.9,1.45,-.25,-.28,.05,1.2,1.3,1.1,1.15,1,.95,.95,1.1,1.05,.3,.15,-.3,.5,.6,.45,.2]
B1_CD8N_X = [.65,.6,.62,.05,.25,.5,.8,1.05,1.2,1.3,.0,-.1,.15,.2,.35,.65,.9,1.1,1.35,-.15,.05,.2,.75,.95,1.1,.1,.35,.6,.7,.85,.2,.4,.55,.1,.0,-.1,.25,.55,1.25,.9,-.05,0,.05,.1,.8,.9,1,1.05,1.1,.95,.85,.1,.0,-.05,.2,.4,.6,.7,.3,.5]
B1_CD8N_Y = [2.2,1.65,1.45,1,1.1,1.3,1.1,.95,.8,.85,.9,.6,.55,.4,.3,.2,.1,.55,.9,.5,.25,.1,.35,.55,.5,.75,1.15,1.2,1.25,1,-.05,-.2,-.05,-.22,.7,.6,.65,.05,.4,-.1,.95,.75,.6,.45,1.15,1.1,1,.85,.7,.4,.3,.3,.55,.8,.2,.2,.25,.2,1.2,1.25]
B1_NK_X = [.55,.05,.35,.6,.85,.95,.15,.25,.05,.1,.3,.5,.7,.9,1.1,1.4,2.55,1.45,1.9,1.4,-.1,-.2,.0,.2,.3,.55,.75,.95,1.05,.95,.7,.3,.1,0,.05]
B1_NK_Y = [2.42,-.08,1.35,1.2,1.2,1.15,1.0,1.1,.9,.35,.45,.3,.35,.25,.7,1.25,.9,.55,.45,.7,.25,.85,-.1,.55,1.2,1.3,1.25,1.05,.75,.35,.25,.15,.55,.7,1]
B1_GDT_X = [-.03,.33,.8,.42,1.2,1.65,1.55,.15,.3,.45,.6,.75,.9,.1,.25,.4,.55,.7,.85,1,.1,.25,.4,.55,.7,.85,1,.15,.3,.45,.6,.75,.9,1.05,.2,.35,.5,.65,.8,.95,.2,.35,.5,.65,.8,.3,.45,.6,1.25,1.5,1.6,1.3,1.7,1.55,1.6,1.1,-.2,-.1,.0,-.25,-.2,-.1,0,-.18,-.02,.05,.15,.3,.55,.7,.85,1.2,-.2,.25,.75]
B1_GDT_Y = [2.47,1.52,2.1,1.65,1.75,1.28,1.48,1.05,1.1,1.15,1.1,1.15,1.05,.95,.95,1,1,1,.95,.9,.8,.85,.85,.85,.85,.85,.8,.7,.7,.75,.7,.7,.7,.65,.55,.6,.6,.6,.55,.55,.45,.45,.5,.45,.4,.3,.35,.25,.6,.95,.75,.45,.45,.47,.45,.35,.95,.9,.9,.72,.45,.65,.35,.25,.25,.1,.18,.25,.2,.2,.25,.6,-.06,-.2,-.23]
B1_CORE = [(1,[.3,.45,.6,.75]),(.92,[.15,.3,.45,.6,.75]),(.78,[.05,.2,.35,.5,.65,.8,.95]),(.7,[.08,.22,.38,.52,.68,.82]),(.62,[.1,.25,.4,.55,.7,.85]),(.52,[.15,.3,.45,.6,.75]),(.4,[.25,.4,.55])]
B1_CD4N_X = [.3,.6,.08]
B1_CD4N_Y = [-.25,.15,-.28]

# ---------- scatter 2B TT vs Neg ----------
B2_BLUE = [(1.9,[-.2,-.1,.05,.2,.32,.45]),(1.7,[-.25,-.12,0,.1,.22,.35,.5]),(1.5,[-.3,-.2,-.08,.05,.15,.28,.4,.52]),(1.35,[-.3,-.2,-.1,.02,.12,.25,.38,.5]),
 (1.2,[-.3,-.2,-.1,0,.12,.22,.35,.45,.55,.65]),(1.05,[-.3,-.2,-.1,.02,.12,.25,.35,.45,.55,.65,.75]),(.9,[-.3,-.2,-.08,.05,.15,.28,.38,.48,.6,.7,.85,.95]),
 (.75,[-.3,-.2,-.1,0,.12,.22,.35,.45,.55,.65,.8,1.1,1.45]),(.6,[-.3,-.2,-.08,.05,.15,.28,.38,.48,.58,.72,.9,1.05,1.3]),(.45,[-.3,-.2,-.1,0,.12,.22,.35,.45,.55,1.2]),
 (.3,[-.3,-.2,-.08,.05,.15,.28,.38,.5]),(.15,[-.3,-.2,-.1,0,.12,.22,.35,.45]),(0,[-.3,-.2,-.08,.05,.15,.28,.38]),(-.15,[-.3,-.22,-.1,0,.1,.2,.3,.5]),(-.27,[-.28,-.2,-.12,-.02,.08,.18,.3])]
B2_SPARSE_X = [2.5,2.2,2.1,2.12,1.99,1.95,1.78,1.73,1.7,1.3,1.37,.32,.48,.8,.98,.4,.5,.7,.55,.1,.25,.4,.65,.67,.68,-.26,-.14,-.2,-.05,.08,.25,.35,.48,.5,.55,.62,.4,.5,.62,.0,.15,.3,.5,.7,.95,.94,1.1,1.13,1.15,1.4,1.5,1.5,1.48,2.6,2.9,3.4,3.14,3.32,3.7,3.85,3.05,1.8,1.95,1.6,1.45,1.3,1.35,1.28,1.4,1.75,1.25,.85,.95,1,1.2]
B2_SPARSE_Y = [4.72,4.4,4.35,4.38,4.3,4.2,4.08,4.05,4.1,3.58,3.62,3.02,3.02,2.8,2.8,2.73,2.76,2.65,2.45,2.45,2.52,2.38,2.4,2.3,2.25,2.3,2.27,2.1,2,2.05,2.2,2.2,2.2,2,2.3,2.15,1.9,1.95,1.75,2.15,2,1.9,1.85,1.6,1.8,1.5,1.25,1.25,1.45,1.02,1.05,1,1.05,1.07,.97,1.2,.93,.83,.93,.97,.7,1,1.02,.85,.6,.7,.68,.48,.4,.4,.2,.55,.5,.7,.95]
B2_CD8M_X = [.27,.33,1.15,1.77,.72,1.29,-.1,-.2,-.02,.15,.35,.4,-.22,-.2,-.1,.2,.35,.5,.5,-.25,-.05,.25,.4,-.1,.1,.35,-.15,.05]
B2_CD8M_Y = [2.02,1.77,1,.93,.1,.57,1.3,1.25,1.48,.95,1.1,.75,.75,.55,.25,.95,.3,.6,.5,.2,.15,.15,-.05,-.2,-.27,.05,.1,.05]
B2_CD8N_X = [.46,-.1,.15,.1,.15,.45,.5,.36,-.2,-.25,-.1,-.05,.2,.35,.4,-.15,.05,.12,-.25,.25,.1]
B2_CD8N_Y = [2.2,1.67,1.62,1.47,1.35,.85,.7,.55,1.1,.95,.4,.25,.5,1,.35,.35,-.05,-.25,.2,.8,.05]
B2_NK_X = [.65,.9,-.2,-.1,0,.12,.2,.3,.38,.42,-.25,.4,.35,.4,-.25,-.1,.02,.15,-.22,.05,.15]
B2_NK_Y = [2.43,1.24,1.2,1.25,1.15,1.25,1.28,1.28,1,.95,.85,.55,.48,.4,.5,.3,.1,.1,.65,.5,.3]
B2_GDT_X = [.82,.03,.7,-.08,.25,-.2,.38,.47,1.25,.66,.28,-.25,-.15,-.05,.05,.15,-.25,-.15,-.05,.05,.15,-.25,-.15,-.05,.05,.15,.22,-.25,-.15,-.05,.05,.15,.25,-.2,-.1,0,.1,.2,-.2,-.1,0,.1,.2,.35,.25,-.15,-.05,.05,.15,.3,.38,-.15,-.02,.08,-.28,-.2,-.05,.02,.38,-.17,-.03]
B2_GDT_Y = [2.47,2.12,1.75,1.67,1.27,1.48,1.53,1.13,1.04,.77,.95,.95,1,1.05,1.1,1.05,.85,.85,.9,.92,.9,.75,.75,.78,.8,.75,.8,.65,.65,.68,.7,.68,.65,.55,.55,.58,.58,.55,.45,.45,.48,.45,.42,.75,.6,.35,.35,.3,.3,.5,.85,.25,.2,.18,.2,.27,-.02,-.15,.18,-.05,-.05]
B2_CORE = [(1.05,[-.1,0,.1]),(.98,[-.15,-.05,.05,.15]),(.85,[-.2,-.1,0,.1,.2]),(.78,[-.25,-.18,-.08,.02,.12,.22]),(.7,[-.2,-.1,0,.1,.2]),(.62,[-.15,-.05,.05,.15]),(.5,[-.15,-.05,.05])]
B2_CD4N_X = [.12,.03,-.25]
B2_CD4N_Y = [-.22,.6,.9]

# ---------- legends ----------
LEG_A_LABELS = ["B (0.1%)","CD4T$_m$emory (91.9%)","CD4T$_n$aive (0.1%)","CD8T$_m$emory (2.7%)","CD8T$_n$aive (1.4%)","NK (1.0%)","gdT (2.9%)"]
LEG_A_COLORS = ["#0000ee","#0080ff","#00ffff","#80ff80","#ffff00","#ff8000","#ff0000"]
LEG_B_LABELS = ["B (0.1%)","CD4T$_m$emory (91.0%)","CD4T$_n$aive (0.1%)","CD8T$_m$emory (3.5%)","CD8T$_n$aive (2.0%)","Monocyte$_c$lassical (0.0%)","NK (1.5%)","gdT (1.7%)"]
LEG_B_COLORS = ["#0000ee","#0080ff","#00ffff","#80ff80","#ffff00","#ff8000","#ff0000","#800000"]


def flat(rows):
    xs, ys = [], []
    for y, row in rows:
        xs += list(row)
        ys += [y] * len(row)
    return xs, ys


fig = plt.figure(figsize=(W / 100, H / 100), dpi=100, facecolor="white")


def s_px(d):
    return (d * 0.72) ** 2


def axes_px(l, t, r, b):
    return fig.add_axes([l / W, 1 - b / H, (r - l) / W, (b - t) / H])


def ftext(x, y, s, **kw):
    kw.setdefault("ha", "center")
    kw.setdefault("va", "center")
    return fig.text(x / W, 1 - y / H, s, **kw)


def style(ax, xlim, ylim, xt, yt, xl=None, yl=None, fs=14):
    ax.set_xlim(xlim)
    ax.set_ylim(ylim)
    ax.set_xticks(xt)
    ax.set_yticks(yt)
    ax.set_xticklabels(xl if xl is not None else [str(v) for v in xt])
    ax.set_yticklabels(yl if yl is not None else [str(v) for v in yt])
    ax.tick_params(direction="in", length=6, width=1.3, color=GREY, labelcolor="#333333", labelsize=fs, pad=6)
    for sp in ("top", "right"):
        ax.spines[sp].set_visible(False)
    for sp in ("left", "bottom"):
        ax.spines[sp].set_color(GREY)
        ax.spines[sp].set_linewidth(1.4)
    ax.patch.set_alpha(0)


def title_label(x, y, s, size=28, rot=0, family=None):
    ftext(x, y, s, color=TITLE, fontweight="bold", fontsize=size, rotation=rot, family=family or NARROW)


def tsne(box, cbox, lim, groups, extra, vmax, cticks, ctick_lab, notes, d, xtlabels=True):
    ax = axes_px(*box)
    norm = Normalize(0, vmax)
    for (xs, ys), v in groups:
        vals = v if isinstance(v, list) else [v] * len(xs)
        ax.scatter(xs, ys, c=vals, s=s_px(d), cmap=JET, norm=norm, linewidths=0, clip_on=False)
    if extra:
        ax.scatter([e[0] for e in extra], [e[1] for e in extra], c=[e[2] for e in extra],
                   s=s_px(min(d, 9)), cmap=JET, norm=norm, linewidths=0)
    xt = list(range(lim[0], lim[1] + 1, 10))
    yt = list(range(-40, lim[2] + 1, 10))
    style(ax, (lim[0], lim[1]), (-40, lim[2]), xt, yt, None if xtlabels else [""] * len(xt))
    cax = axes_px(*cbox)
    cb = fig.colorbar(ScalarMappable(norm=norm, cmap=JET), cax=cax)
    cb.set_ticks(cticks)
    cb.set_ticklabels(ctick_lab)
    cb.ax.tick_params(direction="in", length=5, width=1, color="#222222", labelcolor="#333333", labelsize=12.5, pad=5)
    cb.outline.set_edgecolor(GREY)
    cb.outline.set_linewidth(1)
    ftext(notes[0], notes[1], notes[2], ha="left", color="#333333", fontsize=13)
    ftext(notes[0], notes[3], notes[4], ha="left", color="#333333", fontsize=13)
    return ax


def clabels(c1, c2, cl):
    if c1:
        ftext(c1[0], c1[1], "Coord 1", color="#333333", fontsize=14)
    ftext(c2[0], c2[1], "Coord 2", color="#333333", fontsize=13.5, rotation=90, family=["Liberation Sans", "DejaVu Sans"])
    ftext(cl[0], cl[1], "log10(Number of molecules per cell)", color="#333333", fontsize=10.5, rotation=90,
          family=["Liberation Sans", "DejaVu Sans"])


def scatter_panel(box, xlim, ylim, xt, yt, xl, yl, layers, d, title, r2, leg_box, leg_lab, leg_col, leg_ys, leg_x):
    ax = axes_px(*box)
    for i, (xs, ys, col) in enumerate(layers):
        n = min(len(xs), len(ys))
        ax.scatter(xs[:n], ys[:n], s=s_px(d + 2.5 if i == 0 else d), c=col, linewidths=0, clip_on=False)
    style(ax, xlim, ylim, xt, yt, xl, yl, fs=15.5)
    ftext(title[0], title[1], "Log10(Molecules per cell)", color="#111111", fontsize=15, fontweight="bold")
    ftext(r2[0], r2[1], r2[2], color="#222222", fontsize=15)
    l, t, r, b = leg_box
    fig.add_artist(Rectangle((l / W, 1 - b / H), (r - l) / W, (b - t) / H, transform=fig.transFigure,
                             fc="white", ec="#333333", lw=1.2))
    for lab, col, y in zip(leg_lab, leg_col, leg_ys):
        fig.add_artist(Line2D([leg_x[0] / W], [1 - y / H], marker="o", ms=8.5, mfc=col, mec=col, ls="", transform=fig.transFigure))
        ftext(leg_x[1], y, lab, ha="left", color="#222222", fontsize=12.3)
    return ax


def hide(l, t, r, b):
    fig.add_artist(Rectangle((l / W, 1 - b / H), (r - l) / W, (b - t) / H, transform=fig.transFigure,
                             fc="white", ec="none", zorder=6))


# group sets
A_GROUPS = [flat(A_UP_LIGHT), flat(A_UP_DARK), flat(A_UP_MID), flat(A_LEFT), flat(A_RIGHT), flat(A_LOW), flat(A_LOW2)]
B_GROUPS = [flat(B_TOP), flat(B_LOBE), flat(B_SHOULDER), flat(B_BAND_L), flat(B_BAND_R), flat(B_GAPS), flat(B_MID), flat(B_LR), flat(B_LOW),
            flat(B_LOW_PATCH), flat(B_LOBE_PATCH), flat(B_BAND_DARK), flat(B_BAND_BRIGHT)]
A_ARC = (A_ARC_X, A_ARC_Y)
B_ISLE = (B_ISLE_X, B_ISLE_Y)

# --- 2A maps ---
tsne((232, 125, 804, 696), (829, 125, 862, 696), (-40, 30, 40),
     list(zip(A_GROUPS, A_EBV_LEVELS)) + [(A_ARC, A_ARC_EBV)], A_EBV_EXTRA, 4.47,
     [0, .5, 1, 1.5, 2, 2.5, 3, 3.5, 4], ["0", "0.5", "1", "1.5", "2", "2.5", "3", "3.5", "4"],
     (643, 143, "3695 cells (89.3%)", 166, "466154 mols (15.0%)"), 9)
clabels((516, 737), (185, 411), (904, 412))
title_label(514, 108, "EBV-dex")

tsne((245, 836, 794, 1397), (817, 836, 849, 1397), (-40, 30, 40),
     [(g, 0.01) for g in A_GROUPS] + [(A_ARC, 0.01)], A_NEG_EXTRA, 0.602,
     [0, .1, .2, .3, .4, .5, .6], ["0", "0.1", "0.2", "0.3", "0.4", "0.5", "0.6"],
     (640, 853, "163 cells (3.9%)", 875, "174 mols (0.0%)"), 9)
clabels((517, 1438), (200, 1117), (890, 1117))
title_label(508, 835, "Neg-dex")

tsne((258, 1534, 818, 2108), (843, 1534, 875, 2108), (-40, 30, 40),
     [(g, 0.01) for g in A_GROUPS] + [(A_ARC, 0.01)], A_TT_EXTRA, 0.956,
     [0, .1, .2, .3, .4, .5, .6, .7, .8, .9], ["0", "0.1", "0.2", "0.3", "0.4", "0.5", "0.6", "0.7", "0.8", "0.9"],
     (661, 1552, "163 cells (3.9%)", 1574, "193 mols (0.0%)"), 9, xtlabels=False)
clabels(None, (211, 1821), (915, 1822))
title_label(526, 1510, "TT-dex")

# --- 2B maps ---
tsne((1980, 118, 2517, 649), (2542, 118, 2573, 649), (-50, 40, 50),
     list(zip(B_GROUPS, B_EBV_LEVELS)) + [(B_ISLE, B_ISLE_EBV)], B_EBV_EXTRA, 4.62,
     [0, .5, 1, 1.5, 2, 2.5, 3, 3.5, 4, 4.5], ["0", "0.5", "1", "1.5", "2", "2.5", "3", "3.5", "4", "4.5"],
     (2367, 134, "13601 cells (92.5%)", 155, "760672 mols (4.7%)"), 12.5)
clabels((2247, 688), (1935, 383), (2612, 383))
title_label(2250, 84, "EBV-dex")

tsne((2005, 823, 2534, 1346), (2558, 823, 2588, 1346), (-50, 40, 50),
     list(zip(B_GROUPS, B_NEG_LEVELS)) + [(B_ISLE, 0.8)], B_NEG_EXTRA, 4.7,
     [0, .5, 1, 1.5, 2, 2.5, 3, 3.5, 4, 4.5], ["0", "0.5", "1", "1.5", "2", "2.5", "3", "3.5", "4", "4.5"],
     (2385, 839, "14370 cells (97.7%)", 858, "317193 mols (1.9%)"), 12.5)
clabels((2266, 1385), (1960, 1085), (2627, 1085))
title_label(2265, 816, "Neg-dex")

tsne((2008, 1530, 2561, 2077), (2586, 1530, 2618, 2077), (-50, 40, 50),
     list(zip(B_GROUPS, B_TT_LEVELS)) + [(B_ISLE, 0.1)], B_TT_EXTRA, 3.89,
     [0, .5, 1, 1.5, 2, 2.5, 3, 3.5], ["0", "0.5", "1", "1.5", "2", "2.5", "3", "3.5"],
     (2405, 1546, "1970 cells (13.4%)", 1567, "27477 mols (0.2%)"), 12.5)
clabels((2282, 2113), (1960, 1804), (2658, 1804))
title_label(2265, 1540, "TT-dex")

# --- scatters ---
c = LEG_A_COLORS
scatter_panel((1030, 314, 1531, 848), (-1, 5), (-.4, .8), [-1, 0, 1, 2, 3, 4, 5], [-.4, -.2, 0, .2, .4, .6, .8],
              ["-1", "0", "1", "2", "3", "4", "5"], ["-0.4", "-0.2", "0", "0.2", "0.4", "0.6", "0.8"],
              [(*flat(S1_BLUE), c[1]), (S1_SPARSE_X, S1_SPARSE_Y, c[1]), (S1_CD4N_X, S1_CD4N_Y, c[2]), (S1_CD8M_X, S1_CD8M_Y, c[3]),
               (S1_CD8N_X, S1_CD8N_Y, c[4]), (S1_NK_X, S1_NK_Y, c[5]), (S1_GDT_X, S1_GDT_Y, c[6])], 9.5,
              (1279, 295), (1430, 344, "R$^2$=0.002"), (1612, 644, 1855, 850), LEG_A_LABELS, c,
              [660, 687, 719, 751, 783, 812, 835], (1647, 1680))
hide(985, 395, 1003, 425); hide(985, 485, 1003, 515); hide(985, 575, 1003, 605); hide(1265, 870, 1380, 890)
ftext(1200, 901, "A", color="#333333", fontsize=14.5)
title_label(1301, 906, "EBV-dex")
title_label(962, 539, "Neg-dex", size=32, rot=90, family=["Liberation Sans", "DejaVu Sans"])

scatter_panel((1047, 1126, 1546, 1684), (-.4, 1), (-.4, .8), [-.4, -.2, 0, .2, .4, .6, .8, 1], [-.4, -.2, 0, .2, .4, .6, .8],
              ["-0.4", "-0.2", "0", "0.2", "0.4", "0.6", "0.8", "1"], ["-0.4", "-0.2", "0", "0.2", "0.4", "0.6", "0.8"],
              [(*flat(S2_BLUE), c[1]), (S2_SPARSE_X, S2_SPARSE_Y, c[1]), (S2_CD4N_X, S2_CD4N_Y, c[2]), (S2_CD8M_X, S2_CD8M_Y, c[3]),
               (S2_CD8N_X, S2_CD8N_Y, c[4]), (S2_NK_X, S2_NK_Y, c[5]), (S2_GDT_X, S2_GDT_Y, c[6])], 9.5,
              (1295, 1105), (1444, 1156, "R$^2$=0.001"), (1626, 1470, 1867, 1686), LEG_A_LABELS, c,
              [1487, 1516, 1550, 1583, 1617, 1645, 1670], (1661, 1694))
ftext(1374, 1741, "eq)", color="#333333", fontsize=14.5)
title_label(1275, 1763, "TT-dex")
title_label(959, 1382, "Neg-dex", size=32, rot=90, family=["Liberation Sans", "DejaVu Sans"])

c = LEG_B_COLORS
scatter_panel((2742, 285, 3255, 778), (-1, 5), (-1, 5), [-1, 0, 1, 2, 3, 4, 5], [-1, 0, 1, 2, 3, 4, 5],
              ["-1", "0", "", "", "", "4", "5"], ["-1", "0", "1", "2", "3", "4", "5"],
              [(*flat(B1_BLUE), c[1]), (B1_SPARSE_X, B1_SPARSE_Y, c[1]), (B1_CD4N_X, B1_CD4N_Y, c[2]), (B1_CD8M_X, B1_CD8M_Y, c[3]),
               (B1_CD8N_X, B1_CD8N_Y, c[4]), (B1_NK_X, B1_NK_Y, c[6]), (B1_GDT_X, B1_GDT_Y, c[7]), (*flat(B1_CORE), c[7])], 9.5,
              (2997, 267), (3151, 311, "R$^2$=0.033"), (3324, 561, 3600, 782), LEG_B_LABELS, c,
              [576, 601, 631, 661, 690, 720, 746, 768], (3360, 3394))
title_label(2976, 819, "EBV-dex")
title_label(2678, 518, "Neg-dex", size=32, rot=90, family=["Liberation Sans", "DejaVu Sans"])

scatter_panel((2790, 1161, 3293, 1646), (-1, 4), (-1, 5), [-1, 0, 1, 2, 3, 4], [-1, 0, 1, 2, 3, 4, 5],
              ["-1", "0", "", "", "3", "4"], ["-1", "0", "1", "2", "3", "4", "5"],
              [(*flat(B2_BLUE), c[1]), (B2_SPARSE_X, B2_SPARSE_Y, c[1]), (B2_CD4N_X, B2_CD4N_Y, c[2]), (B2_CD8M_X, B2_CD8M_Y, c[3]),
               (B2_CD8N_X, B2_CD8N_Y, c[4]), (B2_NK_X, B2_NK_Y, c[6]), (B2_GDT_X, B2_GDT_Y, c[7]), (*flat(B2_CORE), c[7])], 9.5,
              (3039, 1144), (3190, 1188, "R$^2$=0.027"), (3361, 1433, 3631, 1649), LEG_B_LABELS, c,
              [1447, 1472, 1501, 1530, 1559, 1588, 1614, 1635], (3395, 3429))
ftext(2959, 1693, "A", color="#333333", fontsize=14.5)
title_label(3045, 1690, "TT-dex")
title_label(2726, 1406, "Neg-dex", size=32, rot=90, family=["Liberation Sans", "DejaVu Sans"])

# --- panel letters and edge ---
ftext(104, 72, "2A", color="black", fontweight="bold", fontsize=52, family=["Liberation Sans", "DejaVu Sans"])
ftext(1839, 58, "2B", color="black", fontweight="bold", fontsize=54, family=["Liberation Sans", "DejaVu Sans"])
fig.add_artist(Rectangle((0, 0), 2 / W, 1, transform=fig.transFigure, fc="#f8cbad", ec="none"))

fig.savefig("out.png", dpi=100)
